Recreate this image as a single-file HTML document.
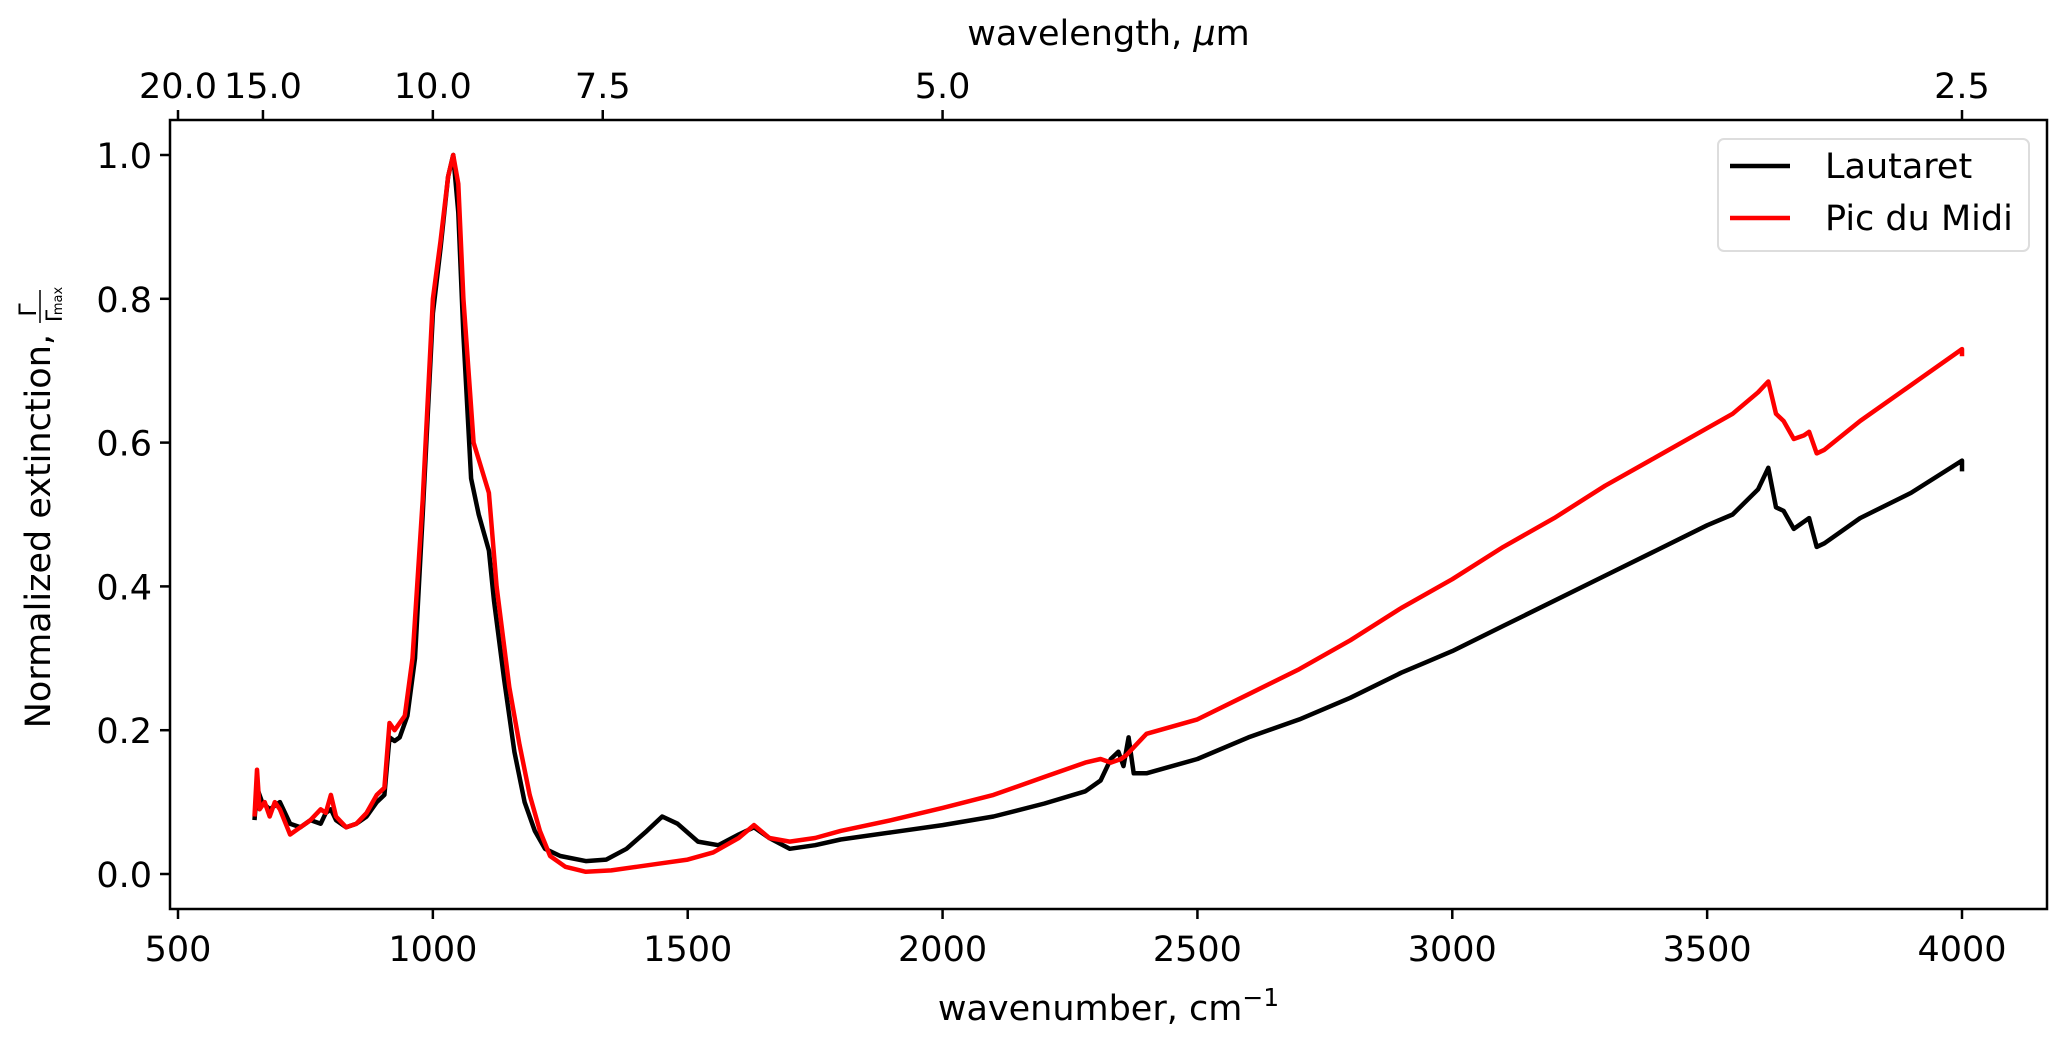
<!DOCTYPE html>
<html><head><meta charset="utf-8"><style>
body{margin:0;background:#fff;}
svg{display:block;font-family:"DejaVu Sans","Liberation Sans",sans-serif;}
</style></head><body>
<svg id="chart" width="2067" height="1037" viewBox="0 0 2067 1037">
<rect width="2067" height="1037" fill="#fff"/>
<g id="plot"></g>
</svg>
<script>
const lautWn=[650,655,665,680,700,720,740,760,780,790,800,810,830,850,870,890,905,915,925,935,950,965,980,1000,1015,1030,1040,1050,1060,1075,1090,1110,1120,1140,1160,1180,1200,1220,1250,1300,1340,1380,1420,1450,1480,1520,1560,1600,1630,1660,1700,1750,1800,1900,2000,2100,2200,2280,2310,2330,2345,2355,2365,2375,2400,2500,2600,2700,2800,2900,2950,3000,3100,3200,3300,3400,3500,3550,3600,3620,3635,3650,3670,3690,3700,3715,3730,3800,3900,4000,4000];
const lautVal=[0.075,0.12,0.10,0.09,0.10,0.07,0.065,0.075,0.07,0.085,0.09,0.075,0.065,0.07,0.08,0.10,0.11,0.19,0.185,0.19,0.22,0.30,0.50,0.78,0.87,0.97,1.0,0.92,0.75,0.55,0.50,0.45,0.38,0.27,0.17,0.10,0.06,0.035,0.025,0.018,0.02,0.035,0.06,0.08,0.07,0.045,0.04,0.055,0.065,0.05,0.035,0.04,0.048,0.058,0.068,0.08,0.098,0.115,0.13,0.16,0.17,0.15,0.19,0.14,0.14,0.16,0.19,0.215,0.245,0.28,0.295,0.31,0.345,0.38,0.415,0.45,0.485,0.50,0.535,0.565,0.51,0.505,0.48,0.49,0.495,0.455,0.46,0.495,0.53,0.575,0.56];
const picWn=[650,655,660,670,680,690,700,720,740,760,780,790,800,810,830,850,870,890,905,915,925,945,960,980,1000,1015,1030,1040,1050,1060,1080,1110,1125,1150,1170,1190,1210,1230,1260,1300,1350,1400,1450,1500,1550,1600,1630,1660,1700,1750,1800,1900,2000,2100,2200,2280,2310,2330,2350,2360,2380,2400,2500,2600,2700,2800,2900,3000,3100,3200,3300,3400,3500,3550,3600,3620,3635,3650,3670,3690,3700,3715,3730,3800,3900,4000,4000];
const picVal=[0.08,0.145,0.09,0.10,0.08,0.10,0.09,0.055,0.065,0.075,0.09,0.085,0.11,0.08,0.065,0.07,0.085,0.11,0.12,0.21,0.20,0.22,0.30,0.52,0.80,0.88,0.97,1.0,0.96,0.80,0.60,0.53,0.40,0.26,0.18,0.11,0.06,0.025,0.01,0.003,0.005,0.01,0.015,0.02,0.03,0.05,0.068,0.05,0.045,0.05,0.06,0.075,0.092,0.11,0.135,0.155,0.16,0.155,0.16,0.165,0.18,0.195,0.215,0.25,0.285,0.325,0.37,0.41,0.455,0.495,0.54,0.58,0.62,0.64,0.67,0.685,0.64,0.63,0.605,0.61,0.615,0.585,0.59,0.63,0.68,0.73,0.72];
const xTicks=[500,1000,1500,2000,2500,3000,3500,4000];
const yTicks=[0,0.2,0.4,0.6,0.8,1.0];
const topTicks=[20.0,15.0,10.0,7.5,5.0,2.5];

const L=170,R=2047,T=120,B=909;
const X=v=>178+(v-500)*(1962-178)/3500;
const Y=v=>874-v*719;
const NS="http://www.w3.org/2000/svg";
const g=document.getElementById('plot');
function mk(tag,attrs,parent){const e=document.createElementNS(NS,tag);for(const k in attrs)e.setAttribute(k,attrs[k]);(parent||g).appendChild(e);return e;}

function series(wn,val,color,name){
  const d=wn.map((w,i)=>(i?'L':'M')+X(w).toFixed(1)+','+Y(val[i]).toFixed(1)).join('');
  const p=mk('path',{d:d,fill:'none',stroke:color,'stroke-width':4.5,'stroke-linejoin':'round'});
  
  
}
series(lautWn,lautVal,'#000','lautaret-line');
series(picWn,picVal,'#ff0000','pic-du-midi-line');

const frame=mk('rect',{x:L,y:T,width:R-L,height:B-T,fill:'none',stroke:'#000','stroke-width':2.5});



xTicks.forEach(v=>{
  mk('line',{x1:X(v),x2:X(v),y1:B,y2:B+10,stroke:'#000','stroke-width':2.5});
  const t=mk('text',{x:X(v),y:B+52,'font-size':35,'text-anchor':'middle'});
  t.textContent=v;
  
  
});
yTicks.forEach(v=>{
  mk('line',{x1:L-10,x2:L,y1:Y(v),y2:Y(v),stroke:'#000','stroke-width':2.5});
  const t=mk('text',{x:L-18,y:Y(v)+13,'font-size':35,'text-anchor':'end'});
  t.textContent=v.toFixed(1);
  
  
});
topTicks.forEach(v=>{
  const x=X(10000/v);
  mk('line',{x1:x,x2:x,y1:T-10,y2:T,stroke:'#000','stroke-width':2.5});
  const t=mk('text',{x:x,y:T-22,'font-size':35,'text-anchor':'middle'});
  t.textContent=v.toFixed(1);
  
  
});

const xl=mk('text',{x:(L+R)/2,y:1020,'font-size':35,'text-anchor':'middle'});
xl.innerHTML='wavenumber, cm<tspan dy="-14" font-size="25">−1</tspan>';



const tl=mk('text',{x:(L+R)/2,y:45,'font-size':35,'text-anchor':'middle'});
tl.innerHTML='wavelength, <tspan font-style="italic">μ</tspan>m';



const yg=mk('g',{transform:'translate(50,510) rotate(-90)'});


const yt=mk('text',{x:176,y:0,'font-size':35,'text-anchor':'end'},yg);
yt.textContent='Normalized extinction,';
mk('text',{x:200,y:-14,'font-size':24,'text-anchor':'middle'},yg).textContent='Γ';
mk('line',{x1:187,x2:220,y1:-10,y2:-10,stroke:'#000','stroke-width':1.5},yg);
mk('text',{x:194,y:12,'font-size':22,'text-anchor':'middle'},yg).textContent='Γ';
mk('text',{x:209,y:12,'font-size':13,'text-anchor':'middle'},yg).textContent='max';

const lg=mk('g',{});


mk('rect',{x:1718,y:139,width:311,height:112,rx:6,fill:'#fff',stroke:'#ddd','stroke-width':2},lg);
mk('line',{x1:1730,x2:1790,y1:166,y2:166,stroke:'#000','stroke-width':4.5},lg);
mk('line',{x1:1730,x2:1790,y1:218,y2:218,stroke:'#ff0000','stroke-width':4.5},lg);
const e1=mk('text',{x:1825,y:178,'font-size':35},lg);e1.textContent='Lautaret';


const e2=mk('text',{x:1825,y:230,'font-size':35},lg);e2.textContent='Pic du Midi';


</script>
</body></html>
